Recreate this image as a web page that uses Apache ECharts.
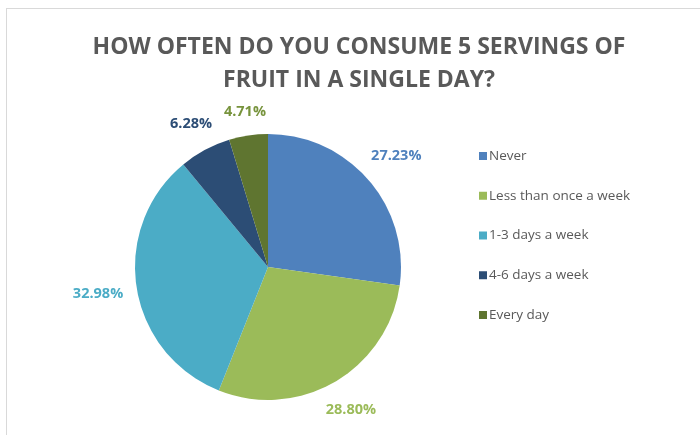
<!DOCTYPE html>
<html>
<head>
<meta charset="utf-8">
<script src="https://cdn.jsdelivr.net/npm/echarts@6/dist/echarts.min.js"></script>
<style>
html,body{margin:0;padding:0;background:#fff;}
#frame{position:absolute;left:6px;top:8px;width:720px;height:460px;border:1px solid #d9d9d9;box-sizing:border-box;}
#chart{position:absolute;left:0;top:0;width:700px;height:435px;}
</style>
</head>
<body>
<div id="frame"></div>
<div id="chart"></div>
<script>
const titleText = 'HOW OFTEN DO YOU CONSUME 5 SERVINGS OF\nFRUIT IN A SINGLE DAY?';
const categories = ['Never', 'Less than once a week', '1-3 days a week', '4-6 days a week', 'Every day'];
const values = [27.23, 28.80, 32.98, 6.28, 4.71];
const colors = ['#4F81BD', '#9BBB59', '#4BACC6', '#2C4D75', '#5F7530'];
const labelColors = ['#4F81BD', '#9BBB59', '#4BACC6', '#2C4D75', '#77933C'];

const CX = 268, CY = 267, R = 133, GAP = 13;

const chart = echarts.init(document.getElementById('chart'), null, {renderer: 'canvas'});
chart.setOption({
  animation: false,
  title: {
    text: titleText,
    left: 354,
    textAlign: 'center',
    top: 26,
    textStyle: {
      fontFamily: 'Open Sans',
      fontWeight: 'bold',
      fontSize: 23,
      lineHeight: 33,
      color: '#595959'
    }
  },
  legend: {
    orient: 'vertical',
    left: 474,
    top: 144,
    itemGap: 25.75,
    itemWidth: 8,
    itemHeight: 8,
    icon: 'rect',
    data: categories,
    textStyle: {
      fontFamily: 'Open Sans',
      fontSize: 13.5,
      color: '#595959',
      padding: [0, 0, 0, -3]
    }
  },
  series: [{
    type: 'pie',
    center: [CX, CY],
    radius: R,
    startAngle: 90,
    clockwise: true,
    avoidLabelOverlap: false,
    itemStyle: {borderWidth: 0},
    label: {
      show: true,
      position: 'outside',
      formatter: p => p.value.toFixed(2) + '%',
      fontFamily: 'Open Sans',
      fontWeight: 'bold',
      fontSize: 14.5
    },
    labelLine: {show: true, length: 0, length2: 0, lineStyle: {opacity: 0, width: 0}},
    labelLayout: function (params) {
      const pts = params.labelLinePoints;
      if (!pts) return {};
      const p = pts[0];
      const dx = p[0] - CX, dy = p[1] - CY;
      const len = Math.hypot(dx, dy) || 1;
      const ux = dx / len, uy = dy / len;
      const w = params.labelRect.width, h = params.labelRect.height;
      const d = GAP + Math.abs(ux) * w / 2 + Math.abs(uy) * h / 2;
      return {x: p[0] + ux * d, y: p[1] + uy * d, align: 'center', verticalAlign: 'middle'};
    },
    emphasis: {disabled: true},
    data: categories.map((c, i) => ({
      name: c,
      value: values[i],
      itemStyle: {color: colors[i]},
      label: {color: labelColors[i]}
    }))
  }]
});
</script>
</body>
</html>
